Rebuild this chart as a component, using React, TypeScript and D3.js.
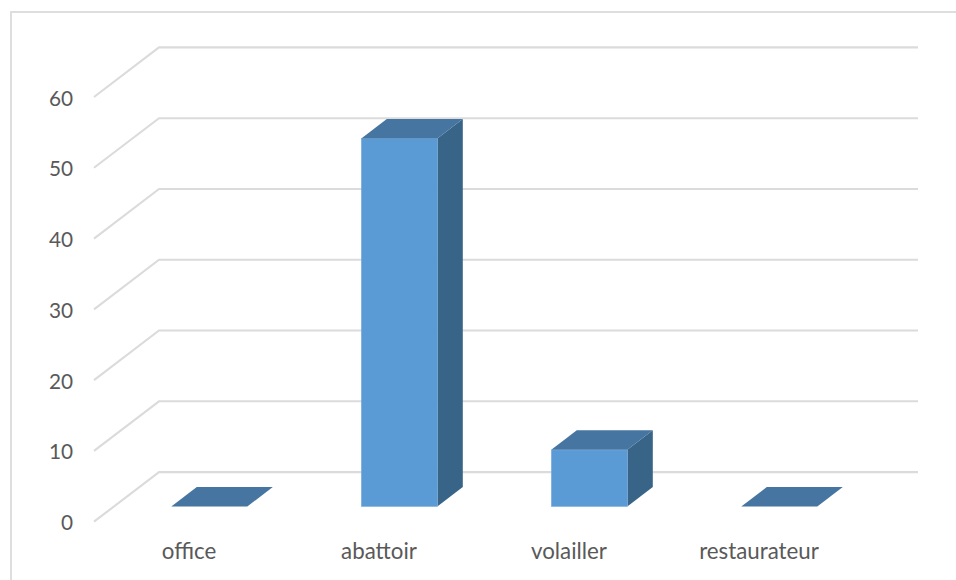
import React from "react";
import * as d3 from "d3";

const categories = ["office", "abattoir", "volailler", "restaurateur"];
const values = [0, 52, 8, 0];
const yTicks = [0, 10, 20, 30, 40, 50, 60];

const W = 956, H = 580;
const depthX = 25.5, depthY = -19.5;
const frontLeft = 94, backRight = 918;
const barW = 76;

const y = d3.scaleLinear().domain([0, 60]).range([521.7, 97]);
const x = d3.scaleBand<string>().domain(categories).range([frontLeft, frontLeft + 760]);
const wallLine = d3.line();
const gridColor = "#dbdbdb";
const textColor = "#595959";
const font = "Lato, 'Open Sans', sans-serif";

export default function App() {
  const baseShiftY = -15.2;
  return (
    <svg width={W} height={H} viewBox={`0 0 ${W} ${H}`} style={{ position: "absolute", left: 0, top: 0, background: "#fff" }}>
      <rect x={11} y={12} width={W} height={H} fill="none" stroke={gridColor} strokeWidth={1.8} />
      {yTicks.map((t) => {
        const fy = y(t);
        const bx = frontLeft + 65, by = fy - 49.6;
        return (
          <g key={t}>
            <path d={wallLine([[frontLeft, fy], [bx, by], [backRight, by]]) ?? ""} fill="none" stroke={gridColor} strokeWidth={2.1} />
            <text x={73} y={fy + 8.5} textAnchor="end" fontFamily={font} fontSize={20.8} fill={textColor}>{t}</text>
          </g>
        );
      })}
      {categories.map((c, i) => {
        const cx = x(c)! + x.bandwidth() / 2 + 20.3;
        const l = cx - barW / 2, r = cx + barW / 2;
        const b = y(0) + baseShiftY;
        const t = y(values[i]) + baseShiftY;
        const poly = (pts: [number, number][]) => (wallLine(pts) ?? "") + "Z";
        return (
          <g key={c}>
            {values[i] > 0 && (
              <>
                <path d={poly([[r, t], [r + depthX, t + depthY], [r + depthX, b + depthY], [r, b]])} fill="#386488" />
                <rect x={l} y={t} width={barW} height={b - t} fill="#5b9bd5" stroke="#7fb0df" strokeWidth={0.6} />
              </>
            )}
            <path d={poly([[l, t], [l + depthX, t + depthY], [r + depthX, t + depthY], [r, t]])} fill="#4575a0" />
            <text x={x(c)! + x.bandwidth() / 2} y={559.3} textAnchor="middle" fontFamily={font} fontSize={22.3} fill={textColor}>{c}</text>
          </g>
        );
      })}
    </svg>
  );
}
